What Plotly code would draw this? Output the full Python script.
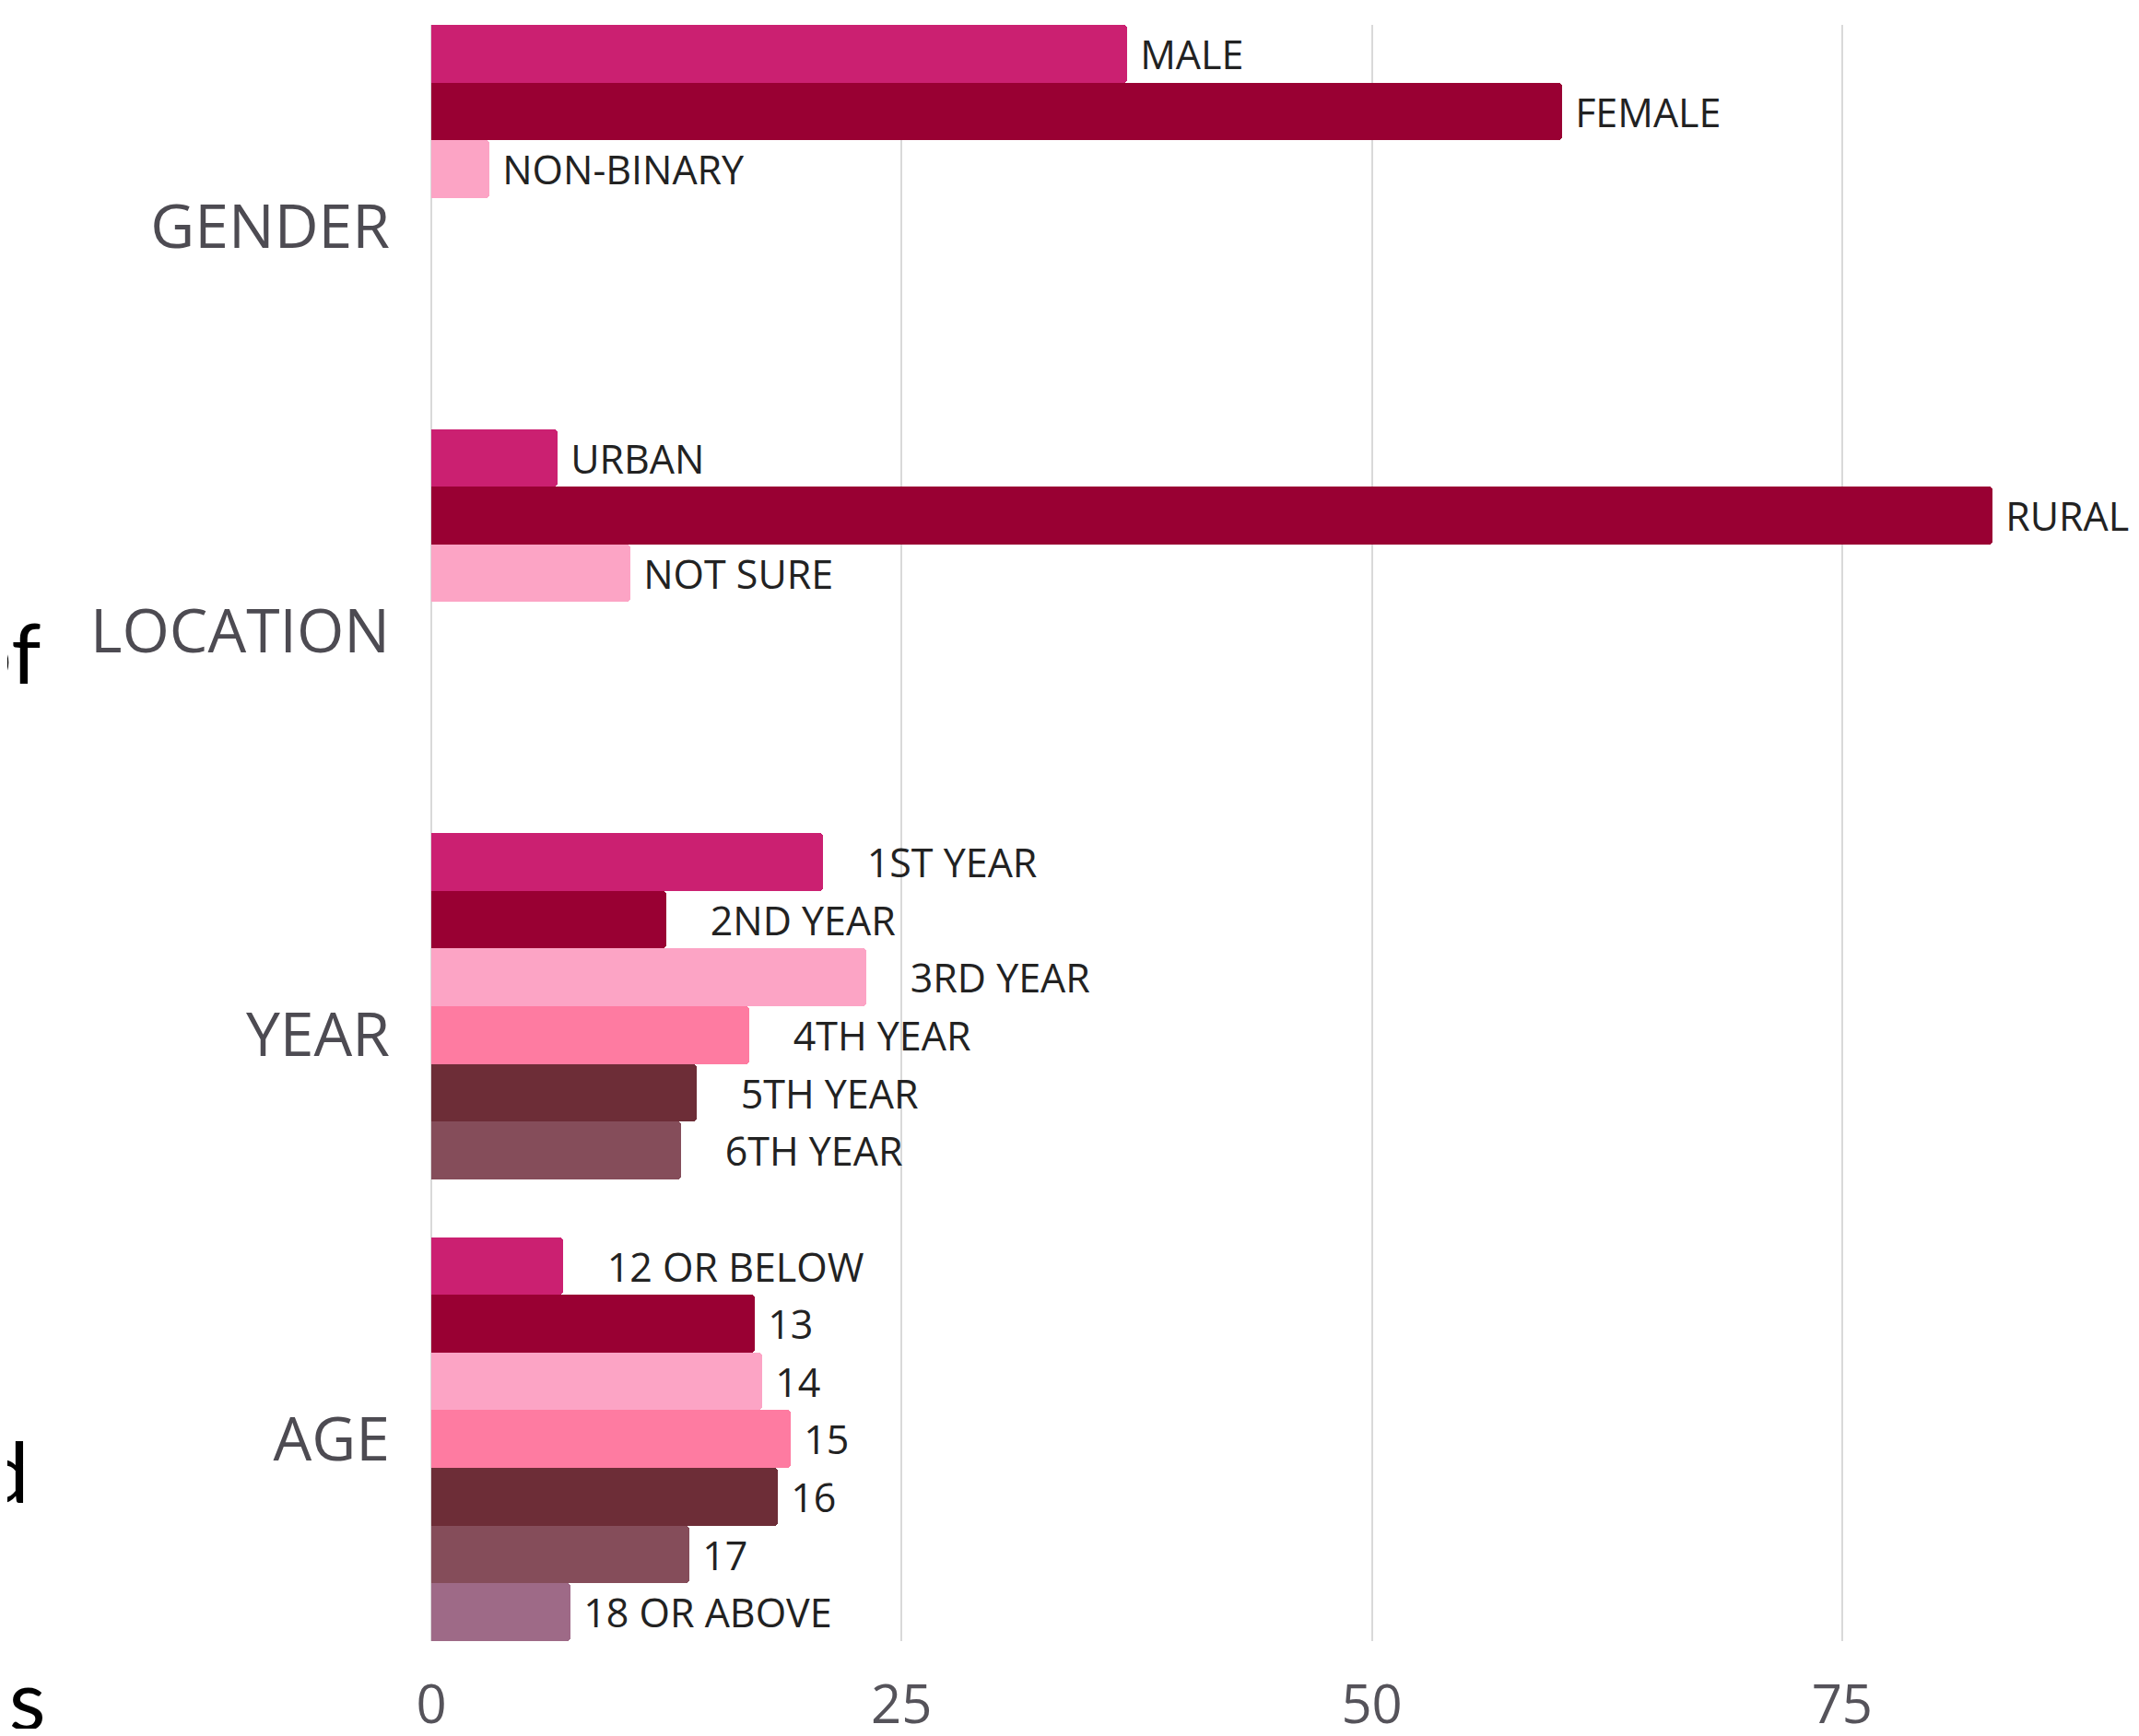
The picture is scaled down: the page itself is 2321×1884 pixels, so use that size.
import plotly.graph_objects as go

# ---------------- data ----------------
categories = ["GENDER", "LOCATION", "YEAR", "AGE"]

gender_labels = ["MALE", "FEMALE", "NON-BINARY"]
gender_values = [37.0, 60.1, 3.1]

location_labels = ["URBAN", "RURAL", "NOT SURE"]
location_values = [6.7, 83.0, 10.6]

year_labels = ["1ST YEAR", "2ND YEAR", "3RD YEAR", "4TH YEAR", "5TH YEAR", "6TH YEAR"]
year_values = [20.8, 12.5, 23.1, 16.9, 14.1, 13.3]

age_labels = ["12 OR BELOW", "13", "14", "15", "16", "17", "18 OR ABOVE"]
age_values = [7.0, 17.2, 17.6, 19.1, 18.4, 13.7, 7.4]

x_ticks = [0, 25, 50, 75]

# ---------------- style ----------------
slot_colors = ["#CB2071", "#990033", "#FCA4C5", "#FE7BA1", "#6D2D37", "#854D5A", "#9E6A87"]
label_pad = {"GENDER": 1, "LOCATION": 1, "YEAR": 4, "AGE": 1}

groups = {
    "GENDER": (gender_labels, gender_values),
    "LOCATION": (location_labels, location_values),
    "YEAR": (year_labels, year_values),
    "AGE": (age_labels, age_values),
}

n_slots = max(len(v[0]) for v in groups.values())

fig = go.Figure()
for i in range(n_slots):
    ys, xs, texts = [], [], []
    for cat in categories:
        labels, values = groups[cat]
        if i < len(labels):
            ys.append(cat)
            xs.append(values[i])
            pad = label_pad[cat] + (3 if (cat == "AGE" and i == 0) else 0)
            texts.append("\u00a0" * pad + labels[i])
    fig.add_trace(go.Bar(
        y=ys, x=xs, orientation="h",
        text=texts, textposition="outside",
        textfont=dict(family="Open Sans", size=43, color="#222222"),
        constraintext="none", cliponaxis=False,
        marker=dict(color=slot_colors[i], cornerradius=4, line=dict(width=0)),
        hoverinfo="skip", showlegend=False,
    ))

# page is 2321x1884; the html body has an 8px margin
PAGE_W, PAGE_H, BODY = 2321, 1884, 8
W, H = PAGE_W - 2 * BODY, PAGE_H - 2 * BODY
L, R, T, B = 460, 8, 19, 95
pw, ph = W - L - R, H - T - B

# partial slide text fragments at the left edge (cut off in the reference too)
fragments = [("of", 46, 706), ("d", 34, 1595), ("ls", 52, 1842)]
for txt, px, py in fragments:
    fx, fy = px - BODY, py - BODY
    fig.add_annotation(
        text=txt, xref="paper", yref="paper",
        x=(fx - L) / pw, y=(H - B - fy) / ph,
        xanchor="right", yanchor="middle", showarrow=False,
        font=dict(family="Lato", size=92, color="#000000"),
    )

fig.update_layout(
    width=W, height=H,
    margin=dict(l=L, r=R, t=T, b=B, autoexpand=False),
    paper_bgcolor="white", plot_bgcolor="white",
    barmode="group", bargap=0, bargroupgap=0,
    font=dict(family="Open Sans"),
    xaxis=dict(
        range=[0, 90], tickvals=x_ticks, ticktext=[str(v) for v in x_ticks],
        showgrid=True, gridcolor="#d9d9d9", gridwidth=2,
        zeroline=True, zerolinecolor="#d9d9d9", zerolinewidth=2,
        showline=False, ticks="", automargin=False,
        tickfont=dict(family="Open Sans", size=58, color="#55535a"),
        ticklabelstandoff=30,
    ),
    yaxis=dict(
        type="category", categoryorder="array", categoryarray=categories,
        range=[3.5, -0.5], showgrid=False, zeroline=False, showline=False, ticks="",
        automargin=False,
        tickfont=dict(family="Open Sans", size=66, color="#4d4b52"),
        ticklabelstandoff=44,
    ),
)

fig.write_html("out.html")
